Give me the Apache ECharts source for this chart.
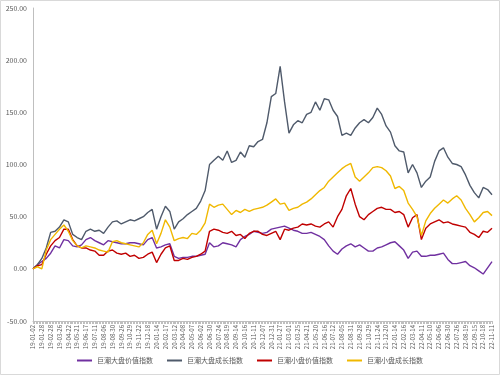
<!DOCTYPE html>
<html><head><meta charset="utf-8">
<script src="https://cdn.jsdelivr.net/npm/echarts@6/dist/echarts.min.js"></script>
<style>html,body{margin:0;padding:0;background:#fff}#c{width:500px;height:375px}</style>
</head><body><div id="c"></div>
<script>
const tickLabels = ['19-01-02','19-01-28','19-02-28','19-03-26','19-04-22','19-05-21','19-06-17','19-07-11','19-08-06','19-08-30','19-09-26','19-10-29','19-11-22','19-12-18','20-01-14','20-02-17','20-03-12','20-04-08','20-05-07','20-06-02','20-06-30','20-07-24','20-08-19','20-09-14','20-10-16','20-11-11','20-12-07','20-12-31','21-01-27','21-03-01','21-03-25','21-04-21','21-05-20','21-06-16','21-07-12','21-08-05','21-08-31','21-09-28','21-10-29','21-11-24','21-12-20','22-01-14','22-02-16','22-03-14','22-04-11','22-05-10','22-06-06','22-06-30','22-07-26','22-08-19','22-09-15','22-10-18','22-11-11'];
const seriesNames = ['巨潮大盘价值指数','巨潮大盘成长指数','巨潮小盘价值指数','巨潮小盘成长指数'];
// two samples per tick interval
const largeValue = [0,4,7,10,15,22,20,28,27,22,21,23,28,30,27,25,23,27,26,25,24,24,25,25,24,23,28,30,20,21,23,24,12,10,11,11,12,12,13,14,25,21,22,25,24,23,21,28,31,33,36,35,34,35,38,39,40,41,39,37,36,34,34,35,33,31,28,22,17,14,19,22,24,21,23,20,17,17,20,21,23,25,26,22,18,10,16,17,12,12,13,13,14,15,9,5,5,6,7,3,1,-2,-5,1,7];
const largeGrowth = [0,4,10,20,35,36,40,47,45,33,30,28,36,38,36,37,34,40,45,46,43,45,47,46,48,50,54,57,38,50,60,55,38,45,48,52,55,58,65,75,100,104,108,104,113,102,104,112,107,118,117,122,124,140,165,168,194,160,130,138,142,140,148,150,160,152,163,162,152,146,128,130,128,135,140,143,140,145,154,148,137,131,118,113,112,92,100,92,78,84,88,103,113,116,107,101,100,98,90,80,73,68,78,76,71];
const smallValue = [0,3,4,14,22,27,30,38,38,28,22,20,20,18,17,13,13,17,18,15,14,15,12,13,10,11,14,16,6,14,20,22,8,8,10,9,11,12,14,17,36,38,37,35,34,36,32,33,29,34,36,36,33,32,34,36,28,38,37,39,40,43,42,43,41,40,43,45,40,50,57,70,77,62,50,47,52,55,58,59,57,57,54,55,52,40,49,52,28,39,43,45,47,44,45,43,42,41,40,35,33,30,36,35,39];
const smallGrowth = [0,2,0,18,28,33,38,42,36,27,22,20,22,21,20,18,17,16,26,27,25,24,23,22,21,25,33,37,24,34,47,40,27,29,30,29,34,33,37,44,62,59,61,62,57,52,56,54,57,55,57,58,59,61,64,67,62,63,56,58,59,62,64,67,71,75,78,84,88,92,96,99,101,88,84,88,92,97,98,97,94,89,77,79,75,63,57,50,32,46,53,58,62,66,63,67,70,66,58,52,45,49,54,55,51];
const seriesValues = [largeValue, largeGrowth, smallValue, smallGrowth];
const colors = ['#7030A0','#4F5A6B','#C00000','#F0B800'];

const chart = echarts.init(document.getElementById('c'), null, {renderer:'canvas'});
chart.setOption({
  animation:false,
  backgroundColor:'#fff',
  textStyle:{fontFamily:'"Noto Sans CJK SC","Noto Sans",sans-serif'},
  graphic:[{type:'rect',shape:{x:0.5,y:0.5,width:499,height:374},style:{fill:'none',stroke:'#D9D9D9',lineWidth:1}}],
  grid:{left:33,right:8,top:8,bottom:54},
  legend:{
    bottom:6,left:'center',itemWidth:15,itemHeight:2,itemGap:14,icon:'rect',
    textStyle:{fontSize:7,color:'#595959'},
    data:seriesNames
  },
  xAxis:{
    type:'value',min:0,max:tickLabels.length-1,interval:1,
    axisLine:{show:true,onZero:false,lineStyle:{color:'#BFBFBF'}},
    axisTick:{show:true,length:3,lineStyle:{color:'#BFBFBF'}},
    minorTick:{show:true,splitNumber:6,length:3,lineStyle:{color:'#BFBFBF'}},
    splitLine:{show:false},
    axisLabel:{rotate:90,fontSize:6,color:'#595959',margin:4,formatter:v=>tickLabels[Math.round(v)]||''}
  },
  yAxis:{
    type:'value',min:-50,max:250,interval:50,
    axisLine:{show:true,lineStyle:{color:'#BFBFBF'}},
    axisTick:{show:false},
    splitLine:{show:false},
    axisLabel:{fontSize:7,color:'#595959',margin:6,formatter:v=>v.toFixed(2)}
  },
  series:seriesNames.map((n,k)=>({
    name:n,type:'line',showSymbol:false,symbol:'none',
    lineStyle:{width:1.4,color:colors[k]},itemStyle:{color:colors[k]},
    data:seriesValues[k].map((v,i)=>[i/2,v])
  }))
});
</script></body></html>
